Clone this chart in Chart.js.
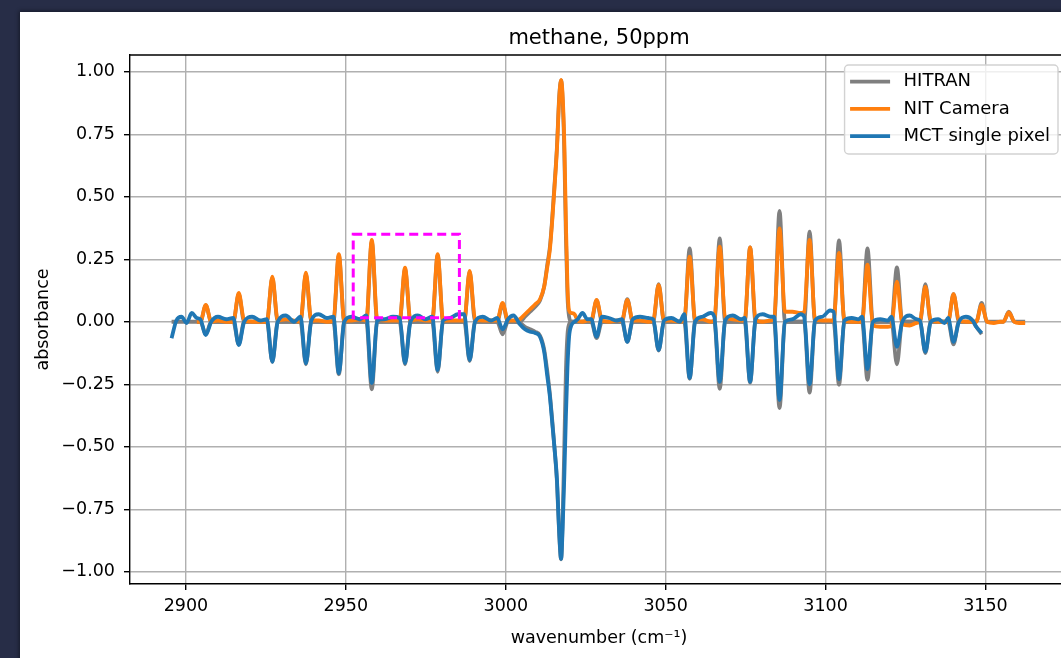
<!DOCTYPE html>
<html lang="en">
<head>
    <meta charset="UTF-8">
    <title>methane, 50ppm</title>
    <script src="https://cdn.jsdelivr.net/npm/chart.js"></script>
    <style>
        body { margin: 0; background: #272d47; overflow: hidden; }
        #panel {
            position: absolute; left: 20px; top: 12px; width: 1100px; height: 700px;
            background: #fff; box-shadow: 0 0 4px 1px rgba(0, 0, 0, 0.45);
        }
        #spectrum { position: absolute; left: 1px; top: 0; }
    </style>
</head>
<body>
    <div id="panel">
        <canvas id="spectrum" width="1100" height="646"></canvas>
    </div>

    <script>
        // wavenumber grid (cm-1): P branch, Q branch, R branch
        const wavenumber = [
            2895.5, 2897.0, 2898.6, 2900.2, 2901.8, 2903.4,
            2904.5, 2906.2, 2907.9, 2910.0, 2912.6,
            2914.8, 2916.5, 2918.2, 2920.7, 2923.3,
            2925.3, 2927.0, 2928.7, 2931.2, 2933.8,
            2935.8, 2937.5, 2939.2, 2941.5, 2944.1,
            2946.1, 2947.8, 2949.5, 2951.8, 2954.4,
            2956.4, 2958.1, 2959.8, 2962.1, 2964.7,
            2966.8, 2968.5, 2970.2, 2972.5, 2974.9,
            2977.0, 2978.7, 2980.4, 2982.6, 2985.0,
            2987.0, 2988.7, 2990.4, 2992.8, 2995.4,
            2997.3, 2999.0, 3000.7, 3002.4,
            3004.4, 3006.0, 3007.6, 3009.2, 3010.7, 3012.0, 3013.0, 3013.8, 3014.5, 3015.2, 3016.0, 3016.7,
            3017.3, 3017.8, 3018.3, 3018.8, 3019.3, 3019.8, 3020.5, 3021.5, 3022.5, 3024.0, 3025.5,
            3026.7, 3028.4, 3030.1, 3032.3, 3034.8,
            3036.3, 3038.0, 3039.7, 3042.0, 3044.6,
            3046.1, 3047.8, 3049.5, 3051.8, 3054.4,
            3055.8, 3057.5, 3059.2, 3061.5, 3064.0,
            3065.2, 3066.9, 3068.6, 3071.0, 3073.6,
            3074.7, 3076.4, 3078.1, 3080.3, 3082.8,
            3083.9, 3085.6, 3087.3, 3089.6, 3092.2,
            3093.3, 3095.0, 3096.7, 3099.0, 3101.4,
            3102.5, 3104.2, 3105.9, 3108.2, 3110.3,
            3111.4, 3113.1, 3114.8, 3117.1, 3119.5,
            3120.6, 3122.3, 3124.0, 3126.3, 3128.4,
            3129.5, 3131.2, 3132.9, 3135.2, 3137.2,
            3138.3, 3140.0, 3141.7, 3143.9, 3146.0,
            3147.1, 3148.8, 3150.5, 3152.6, 3154.6,
            3155.6, 3157.3, 3159.0, 3160.5, 3162.4
        ];

        // HITRAN reference, scaled to the camera (positive side)
        const hitranUp = [
            null, null, null, null, null, 0.0,
            0.0, 0.065, 0.0, 0.0, 0.0,
            0.0, 0.11, 0.0, 0.0, 0.0,
            0.0, 0.175, 0.0, 0.0, 0.0,
            0.0, 0.19, 0.0, 0.0, 0.0,
            0.0, 0.265, 0.0, 0.0, 0.0,
            0.0, 0.32, 0.0, 0.0, 0.0,
            0.0, 0.21, 0.0, 0.0, 0.0,
            0.0, 0.265, 0.0, 0.0, 0.0,
            0.0, 0.2, 0.0, 0.0, 0.0,
            0.0, 0.07, 0.0, 0.0,
            0.0, 0.02, 0.04, 0.06, 0.085, 0.14, 0.23, 0.3, 0.41, 0.54, 0.7, 0.9,
            0.965, 0.88, 0.68, 0.34, 0.1, 0.02, 0.0, 0.0, 0.0, 0.0, 0.0,
            0.0, 0.085, 0.0, 0.0, 0.0,
            0.0, 0.09, 0.0, 0.0, 0.0,
            0.0, 0.15, 0.0, 0.0, 0.0,
            0.0, 0.293, 0.0, 0.0, 0.0,
            0.0, 0.333, 0.0, 0.0, 0.0,
            0.0, 0.297, 0.0, 0.0, 0.0,
            0.0, 0.443, 0.0, 0.0, 0.0,
            0.0, 0.36, 0.0, 0.0, 0.0,
            0.0, 0.325, 0.0, 0.0, 0.0,
            0.0, 0.293, 0.0, 0.0, 0.0,
            0.0, 0.217, 0.0, 0.0, 0.0,
            0.0, 0.15, 0.0, 0.0, 0.0,
            0.0, 0.11, 0.0, 0.0, 0.0,
            0.0, 0.075, 0.0, 0.0, 0.0,
            0.0, 0.04, 0.0, 0.0, 0.0
        ];

        // HITRAN reference, scaled to the single pixel detector (negative side)
        const hitranDown = [
            0.0, 0.0, 0.0, 0.0, 0.0, 0.0,
            0.0, -0.05, 0.0, 0.0, 0.0,
            0.0, -0.09, 0.0, 0.0, 0.0,
            0.0, -0.16, 0.0, 0.0, 0.0,
            0.0, -0.17, 0.0, 0.0, 0.0,
            0.0, -0.21, 0.0, 0.0, 0.0,
            0.0, -0.27, 0.0, 0.0, 0.0,
            0.0, -0.17, 0.0, 0.0, 0.0,
            0.0, -0.2, 0.0, 0.0, 0.0,
            0.0, -0.157, 0.0, 0.0, 0.0,
            0.0, -0.05, 0.0, 0.0,
            -0.005, -0.02, -0.03, -0.04, -0.055, -0.11, -0.2, -0.29, -0.39, -0.5, -0.64, -0.85,
            -0.95, -0.78, -0.5, -0.2, -0.05, -0.01, 0.0, 0.0, 0.0, 0.0, 0.0,
            0.0, -0.065, 0.0, 0.0, 0.0,
            0.0, -0.08, 0.0, 0.0, 0.0,
            0.0, -0.115, 0.0, 0.0, 0.0,
            0.0, -0.228, 0.0, 0.0, 0.0,
            0.0, -0.268, 0.0, 0.0, 0.0,
            0.0, -0.243, 0.0, 0.0, 0.0,
            0.0, -0.345, 0.0, 0.0, 0.0,
            0.0, -0.283, 0.0, 0.0, 0.0,
            0.0, -0.252, 0.0, 0.0, 0.0,
            0.0, -0.232, 0.0, 0.0, 0.0,
            0.0, -0.17, 0.0, 0.0, 0.0,
            0.0, -0.125, 0.0, 0.0, 0.0,
            0.0, -0.09, 0.0, 0.0, 0.0,
            -0.02, -0.05, null, null, null,
            null, null, null, null, null
        ];

        // NIT camera absorbance
        const nitCamera = [
            null, null, null, null, null, 0.0,
            0.0, 0.067, 0.0, 0.005, 0.0,
            0.0, 0.115, 0.005, 0.0, 0.0,
            0.0, 0.18, 0.005, 0.01, 0.005,
            0.0, 0.196, 0.005, 0.005, 0.0,
            0.005, 0.27, 0.005, 0.005, 0.01,
            0.005, 0.327, 0.01, 0.005, 0.005,
            0.005, 0.216, 0.005, 0.01, 0.005,
            0.005, 0.27, 0.005, 0.005, 0.005,
            0.005, 0.203, 0.01, 0.005, 0.005,
            0.005, 0.075, 0.005, 0.005,
            0.01, 0.03, 0.05, 0.07, 0.09, 0.14, 0.22, 0.29, 0.4, 0.53, 0.69, 0.89,
            0.967, 0.9, 0.72, 0.4, 0.14, 0.045, 0.035, 0.03, 0.005, 0.0, 0.005,
            0.005, 0.087, 0.005, 0.0, 0.005,
            0.005, 0.087, 0.005, 0.005, 0.0,
            0.005, 0.147, 0.005, 0.005, 0.0,
            0.005, 0.26, 0.01, 0.01, 0.0,
            0.005, 0.30, 0.02, 0.01, 0.005,
            0.005, 0.297, 0.01, 0.0, 0.005,
            0.01, 0.373, 0.04, 0.04, 0.035,
            0.04, 0.327, 0.01, 0.005, 0.005,
            0.005, 0.275, 0.005, 0.0, 0.0,
            0.0, 0.228, -0.015, -0.02, -0.02,
            -0.015, 0.16, -0.01, -0.015, -0.005,
            0.0, 0.14, 0.005, 0.0, 0.0,
            0.0, 0.11, 0.005, 0.0, 0.0,
            0.0, 0.067, 0.0, -0.005, 0.0,
            0.0, 0.037, 0.0, -0.005, -0.005
        ];

        // MCT single pixel absorbance (plotted negative)
        const mctPixel = [
            -0.066, 0.005, 0.02, -0.005, 0.035, 0.015,
            0.01, -0.053, 0.0, 0.02, 0.01,
            0.015, -0.093, 0.0, 0.02, 0.005,
            0.01, -0.16, 0.0, 0.025, 0.0,
            0.02, -0.166, 0.005, 0.03, 0.015,
            0.02, -0.206, 0.0, 0.02, 0.01,
            0.025, -0.245, 0.005, 0.01, 0.02,
            0.015, -0.165, 0.0, 0.025, 0.01,
            0.02, -0.193, 0.005, 0.015, 0.03,
            0.03, -0.153, 0.0, 0.02, 0.005,
            0.015, -0.03, 0.01, 0.025,
            -0.01, -0.03, -0.04, -0.045, -0.06, -0.12, -0.22, -0.3, -0.4, -0.5, -0.63, -0.84,
            -0.948, -0.82, -0.62, -0.38, -0.18, -0.06, -0.015, 0.0, 0.01, 0.035, 0.01,
            0.01, -0.06, 0.02, 0.015, 0.005,
            0.01, -0.08, 0.01, 0.02, 0.015,
            0.01, -0.113, 0.005, 0.015, 0.0,
            0.03, -0.225, 0.0, 0.02, 0.035,
            0.02, -0.24, 0.005, 0.025, 0.01,
            0.015, -0.24, 0.01, 0.03, 0.02,
            0.02, -0.313, 0.0, 0.01, 0.03,
            0.02, -0.25, 0.005, 0.02, 0.045,
            0.04, -0.23, 0.005, 0.015, 0.01,
            0.02, -0.19, 0.0, 0.01, 0.005,
            0.02, -0.1, 0.0, 0.025, 0.01,
            0.005, -0.12, 0.0, 0.01, -0.005,
            0.015, -0.08, 0.0, 0.02, 0.005,
            -0.02, -0.045, null, null, null,
            null, null, null, null, null
        ];

        // axis ranges and ticks
        const xRange = [2882.5, 3175.8];
        const yRange = [-1.049, 1.067];
        const xStep = 50;
        const yStep = 0.25;

        // dashed box drawn over the P branch (data units)
        const boxWn = [2952.3, 2985.5];
        const boxAbs = [0.016, 0.35];

        const FONT = "'DejaVu Sans', sans-serif";
        Chart.defaults.font.family = FONT;
        Chart.defaults.color = '#000';

        const points = ys => wavenumber.map((x, i) => ({ x: x, y: ys[i] }));

        function line(label, ys, color, order) {
            return {
                label: label,
                data: points(ys),
                borderColor: color,
                backgroundColor: color,
                borderWidth: 3.8,
                pointRadius: 0,
                fill: false,
                order: order
            };
        }

        // legend drawn inside the plot like matplotlib's "best" spot
        const boxLegend = {
            id: 'boxLegend',
            afterDraw(chart) {
                const ctx = chart.ctx;
                const area = chart.chartArea;
                const items = chart.data.datasets.filter(d => d.label);
                ctx.save();
                ctx.font = '18px ' + FONT;
                const textW = Math.max(...items.map(d => ctx.measureText(d.label).width));
                const right = area.right - 10;
                const top = area.top + 10;
                const width = 5.5 + 40 + 13.5 + textW + 8;
                const left = right - width;
                ctx.beginPath();
                ctx.roundRect(left, top, width, 89, 4);
                ctx.fillStyle = 'rgba(255,255,255,0.8)';
                ctx.fill();
                ctx.strokeStyle = '#d2d2d2';
                ctx.lineWidth = 1.4;
                ctx.stroke();
                items.forEach((d, i) => {
                    const y = top + 16.7 + i * 27.2;
                    ctx.strokeStyle = d.borderColor;
                    ctx.lineWidth = d.borderWidth;
                    ctx.beginPath();
                    ctx.moveTo(left + 5.5, y);
                    ctx.lineTo(left + 45.5, y);
                    ctx.stroke();
                    ctx.fillStyle = '#000';
                    ctx.textBaseline = 'middle';
                    ctx.textAlign = 'left';
                    ctx.fillText(d.label, left + 59, y);
                });
                ctx.restore();
            }
        };

        // top/right spines and the dashed highlight box
        const frame = {
            id: 'frame',
            afterDatasetsDraw(chart) {
                const { ctx, chartArea: a, scales: { x, y } } = chart;
                ctx.save();
                ctx.strokeStyle = '#000';
                ctx.lineWidth = 1.4;
                ctx.beginPath();
                ctx.moveTo(a.left, a.top);
                ctx.lineTo(a.right, a.top);
                ctx.lineTo(a.right, a.bottom);
                ctx.stroke();

                const x0 = x.getPixelForValue(boxWn[0]);
                const x1 = x.getPixelForValue(boxWn[1]);
                const y0 = y.getPixelForValue(boxAbs[1]);
                const y1 = y.getPixelForValue(boxAbs[0]);
                ctx.setLineDash([9, 5]);
                ctx.strokeStyle = '#ff00ff';
                ctx.lineWidth = 3;
                ctx.strokeRect(x0, y0, x1 - x0, y1 - y0);
                ctx.restore();
            }
        };

        const gridOpts = {
            color: '#b0b0b0',
            lineWidth: 1.4,
            tickLength: 6,
            tickColor: '#000',
            tickWidth: 1.4
        };

        new Chart(document.getElementById('spectrum'), {
            type: 'line',
            data: {
                datasets: [
                    line('HITRAN', hitranUp, '#7f7f7f', 3),
                    line(undefined, hitranDown, '#7f7f7f', 3),
                    line('NIT Camera', nitCamera, '#ff7f0e', 2),
                    line('MCT single pixel', mctPixel, '#1f77b4', 1)
                ]
            },
            options: {
                responsive: false,
                animation: false,
                events: [],
                layout: { padding: { top: 0, right: 53, bottom: 0, left: 0 } },
                elements: {
                    line: { cubicInterpolationMode: 'monotone', borderJoinStyle: 'round' }
                },
                plugins: {
                    legend: { display: false },
                    tooltip: { enabled: false },
                    title: {
                        display: true,
                        fullSize: false,
                        text: 'methane, 50ppm',
                        color: '#000',
                        font: { size: 21, weight: 'normal', lineHeight: 1.2 },
                        padding: { top: 14, bottom: 3.8 }
                    }
                },
                scales: {
                    x: {
                        type: 'linear',
                        min: xRange[0],
                        max: xRange[1],
                        afterFit: s => { s.height = 74; },
                        grid: gridOpts,
                        border: { color: '#000', width: 1.4 },
                        ticks: {
                            stepSize: xStep,
                            includeBounds: false,
                            maxRotation: 0,
                            padding: 5.5,
                            font: { size: 17.5 },
                            callback: v => String(v)
                        },
                        title: {
                            display: true,
                            text: 'wavenumber (cm\u207B\u00B9)',
                            font: { size: 17.5, lineHeight: 1.2 },
                            padding: { top: 0, bottom: 9.5 }
                        }
                    },
                    y: {
                        min: yRange[0],
                        max: yRange[1],
                        afterFit: s => { s.width = 109; },
                        grid: gridOpts,
                        border: { color: '#000', width: 1.4 },
                        ticks: {
                            stepSize: yStep,
                            includeBounds: false,
                            padding: 9,
                            font: { size: 17.5 },
                            callback: v => Math.abs(v) < 1e-9 ? '0.00' : (v < 0 ? '\u2212' : '') + Math.abs(v).toFixed(2)
                        },
                        title: {
                            display: true,
                            text: 'absorbance',
                            font: { size: 17.5, lineHeight: 1.2 },
                            padding: { top: 11.8, bottom: 0 }
                        }
                    }
                }
            },
            plugins: [frame, boxLegend]
        });
    </script>
</body>
</html>
